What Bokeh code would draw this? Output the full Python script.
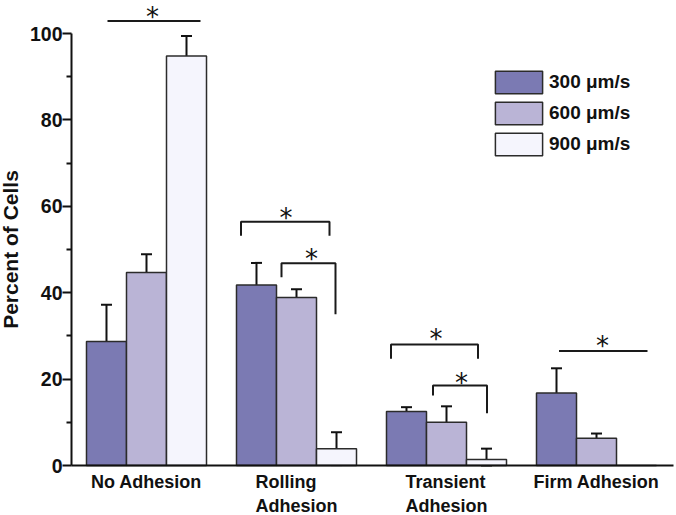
from bokeh.plotting import figure
from bokeh.models import (ColumnDataSource, Whisker, TeeHead, FixedTicker, Legend,
                          LegendItem, Range1d, LabelSet)
from bokeh.core.properties import value
from bokeh.embed import file_html
from bokeh.resources import INLINE

# ---- data ----
categories = ["No Adhesion", "Rolling\nAdhesion", "Transient\nAdhesion", "Firm Adhesion"]
series_names = ["300 \u03bcm/s", "600 \u03bcm/s", "900 \u03bcm/s"]
v300 = [28.7, 41.8, 12.5, 16.8]
e300 = [8.5, 5.1, 1.0, 5.7]
v600 = [44.7, 38.9, 10.0, 6.3]
e600 = [4.2, 1.9, 3.7, 1.1]
v900 = [94.8, 3.9, 1.4, 0.0]
e900 = [4.6, 3.8, 2.5, 0.0]
y_ticks = [0, 20, 40, 60, 80, 100]
y_minor = [10, 30, 50, 70, 90]

# significance brackets: (x_left, x_right, y_top, y_left_end, y_right_end)
brackets = [
    (0.74, 1.36, 102.9, 102.9, 102.9),
    (1.63, 2.22, 56.4, 53.2, 53.2),
    (1.90, 2.26, 46.8, 43.6, 35.0),
    (2.63, 3.21, 28.0, 24.7, 24.7),
    (2.91, 3.27, 18.5, 16.2, 12.1),
    (3.75, 4.34, 26.5, 26.5, 26.5),
]
star_x = [1.04, 1.93, 2.1, 2.93, 3.1, 4.04]
star_y = [107.4, 60.8, 51.2, 32.7, 22.6, 31.1]

colors = ["#7b7ab3", "#bab4d6", "#f5f5fd"]
values = [v300, v600, v900]
errors = [e300, e600, e900]

group_x = list(range(1, len(categories) + 1))
bw = 0.2667
offsets = [-bw, 0.0, bw]

# whole canvas is the plot frame; axes are pinned at x=0.5 and y=0
p = figure(width=676, height=515, output_backend="svg", toolbar_location=None,
           x_range=Range1d(0.0267, 4.5333), y_range=Range1d(-11.574, 107.64),
           min_border_left=0, min_border_right=0, min_border_top=0,
           min_border_bottom=0)
p.outline_line_color = None
p.grid.visible = False
p.background_fill_color = "white"

font = "Liberation Sans"
renderers = []
for vals, errs, col, off in zip(values, errors, colors, offsets):
    xs = [g + off for g in group_x]
    src = ColumnDataSource(dict(x=xs, top=vals))
    r = p.vbar(x="x", top="top", bottom=0, width=bw, source=src,
               fill_color=col, line_color="#2b2b2b", line_width=1.5)
    renderers.append(r)
    src_e = ColumnDataSource(dict(x=[x for x, e in zip(xs, errs) if e > 0],
                                  upper=[v + e for v, e in zip(vals, errs) if e > 0],
                                  lower=[max(v - e, 0) for v, e in zip(vals, errs) if e > 0]))
    w = Whisker(base="x", upper="upper", lower="lower", source=src_e,
                line_color="#111111", line_width=2,
                upper_head=TeeHead(size=11, line_color="#111111", line_width=2),
                lower_head=TeeHead(size=11, line_color="#111111", line_width=2))
    p.add_layout(w)

# brackets
for (xl, xr, yt, yl, yr) in brackets:
    p.line([xl, xl, xr, xr], [yl, yt, yt, yr], line_color="#1a1a1a", line_width=2)

p.text(x=star_x, y=star_y, text=["*"] * len(star_x), text_align="center",
       text_baseline="top", text_font=value("DejaVu Sans"),
       text_font_size="26px", text_color="#111111")

# y axis
p.yaxis.fixed_location = 0.5
p.yaxis.ticker = FixedTicker(ticks=y_ticks, minor_ticks=y_minor)
p.yaxis.bounds = (0, 100)
p.yaxis.major_tick_out = 9
p.yaxis.major_tick_in = 0
p.yaxis.minor_tick_out = 5
p.yaxis.minor_tick_in = 0
p.yaxis.major_tick_line_width = 2
p.yaxis.minor_tick_line_width = 2
p.yaxis.axis_line_width = 2
p.yaxis.major_label_standoff = 0
p.yaxis.axis_label = "Percent of Cells"
p.yaxis.axis_label_standoff = 5
p.yaxis.axis_label_text_font = font
p.yaxis.axis_label_text_font_style = "bold"
p.yaxis.axis_label_text_font_size = "21px"
p.yaxis.major_label_text_font = font
p.yaxis.major_label_text_font_style = "bold"
p.yaxis.major_label_text_font_size = "19.5px"
for ax in [p.yaxis[0], p.xaxis[0]]:
    ax.axis_line_color = "#111111"
    ax.major_tick_line_color = "#111111"
    ax.minor_tick_line_color = "#111111"
    ax.major_label_text_color = "#111111"
    ax.axis_label_text_color = "#111111"

# x axis: line only; category labels drawn as a label set below it
p.xaxis.fixed_location = 0
p.xaxis.bounds = (0.5, 4.513)
p.xaxis.ticker = FixedTicker(ticks=[], minor_ticks=[])
p.xaxis.major_tick_out = 0
p.xaxis.major_tick_in = 0
p.xaxis.axis_line_width = 2

lab_src = ColumnDataSource(dict(x=group_x, y=[0] * len(group_x), text=categories))
labels = LabelSet(x="x", y="y", text="text", source=lab_src, y_offset=-6,
                  text_align="center", text_baseline="top",
                  text_font=value(font), text_font_style="bold",
                  text_font_size="18px", text_line_height=1.2,
                  text_color="#111111")
p.add_layout(labels)

legend = Legend(items=[LegendItem(label=n, renderers=[r]) for n, r in zip(series_names, renderers)],
                location=(489, 357), orientation="vertical",
                glyph_width=59, glyph_height=28, spacing=3, padding=0, margin=0,
                label_standoff=1, border_line_alpha=0, background_fill_alpha=0,
                label_text_font=font, label_text_font_style="bold",
                label_text_font_size="19px", label_text_color="#111111")
p.add_layout(legend)

open("out.html", "w").write(file_html(p, INLINE))
